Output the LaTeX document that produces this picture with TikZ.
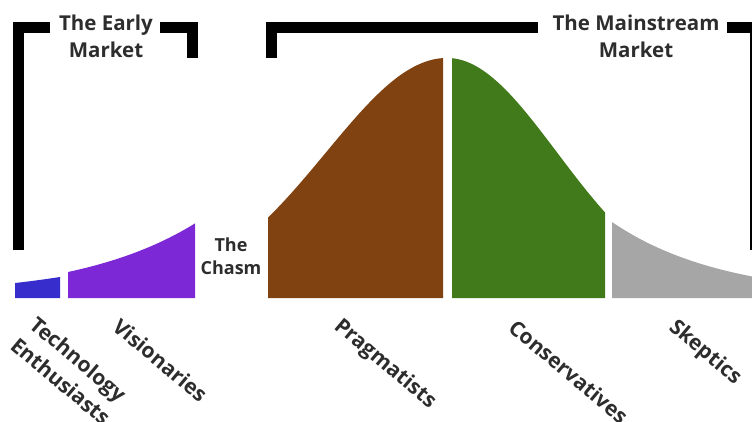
\documentclass[tikz,border=0pt]{standalone}
\usepackage{fontspec}
\setmainfont{Open Sans}
\definecolor{techblue}{RGB}{55,45,205}
\definecolor{vispurple}{RGB}{125,40,215}
\definecolor{pragbrown}{RGB}{128,66,16}
\definecolor{consgreen}{RGB}{64,122,26}
\definecolor{skepgrey}{RGB}{166,166,166}
\definecolor{txtgrey}{RGB}{45,45,45}
\tikzset{
  bracketline/.style={line width=11pt, black, line join=miter},
  headtext/.style={font=\bfseries\fontsize{20.5}{27}\selectfont, text=txtgrey, align=center, inner sep=0pt},
  grouplabel/.style={font=\bfseries\fontsize{21}{24}\selectfont, text=txtgrey, inner sep=0pt, rotate=-40, anchor=base west},
}
\begin{document}
\begin{tikzpicture}[x=1pt,y=-1pt]
\useasboundingbox (0,0) rectangle (752,421);
% brackets
\draw[bracketline] (18.5,250) -- (18.5,27.5) -- (50,27.5);
\draw[bracketline] (160,27.5) -- (192.5,27.5) -- (192.5,58);
\draw[bracketline] (271,58) -- (271,27.5) -- (538,27.5);
\draw[bracketline] (727,27.5) -- (757,27.5);
\draw[line width=3pt, black] (751,27) -- (751,250);
% headings (base = baseline of the last line)
\node[headtext, anchor=base] (early) at (106,57) {The Early\\Market};
\node[headtext, anchor=base] (main) at (636,57) {The Mainstream\\Market};
% curve segments
\fill[techblue] (15,298) -- plot[domain=15:60, samples=20] (\x,{298-15*exp(0.0075*(\x-15))}) -- (60,298) -- cycle;
\fill[vispurple] (68,298) -- plot[domain=68:195, samples=40] (\x,{298-26*exp(0.0083*(\x-68))}) -- (195,298) -- cycle;
\fill[pragbrown] (268,298) -- plot[domain=268:443, samples=70] (\x,{298-240*exp(-0.5*((\x-447)/121)*((\x-447)/121))}) -- (443,298) -- cycle;
\fill[consgreen] (452,298) -- plot[domain=452:605, samples=70] (\x,{298-240*exp(-0.5*((\x-447)/110)*((\x-447)/110))}) -- (605,298) -- cycle;
\fill[skepgrey] (612,298) -- plot[domain=612:752, samples=50] (\x,{298-76*exp(-0.009*(\x-612))}) -- (752,298) -- cycle;
% chasm
\node[headtext, font=\bfseries\fontsize{18}{23}\selectfont, anchor=base] (chasm) at (231,274) {The\\Chasm};
% group labels
\node[grouplabel] (tech) at (28,327) {Technology};
\node[grouplabel] (enth) at (9,348) {Enthusiasts};
\node[grouplabel] (vis) at (111,329) {Visionaries};
\node[grouplabel] (prag) at (333,328) {Pragmatists};
\node[grouplabel] (cons) at (507,330) {Conservatives};
\node[grouplabel] (skep) at (668,329) {Skeptics};
\end{tikzpicture}
\end{document}
